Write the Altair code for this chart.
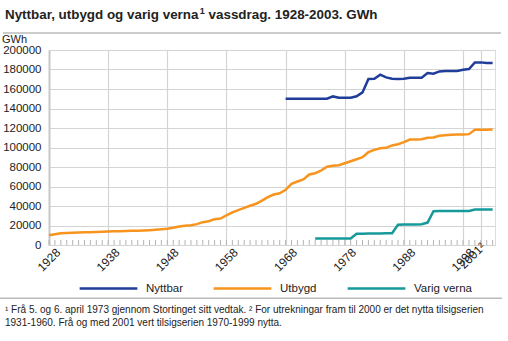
import altair as alt
import pandas as pd

# ---------------- data ----------------
title_parts = ["Nyttbar, utbygd og varig verna", "1", "vassdrag. 1928-2003. GWh"]
unit_text = "GWh"
footnote_lines = [
    "¹ Frå 5. og 6. april 1973 gjennom Stortinget sitt vedtak.  ² For utrekningar fram til 2000 er det nytta tilsigserien",
    "1931-1960.  Frå og med 2001 vert tilsigserien 1970-1999 nytta.",
]

series_names = ["Nyttbar", "Utbygd", "Varig verna"]
series_colors = ["#1f3d99", "#f7941d", "#16999a"]

years_nyttbar = list(range(1968, 2004))
nyttbar = [150000, 150000, 150000, 150000, 150000, 150000, 150000, 150000,
           152400, 151100, 151000, 151000, 152500, 156500, 170300, 170600,
           174700, 171900, 170600, 170300, 170500, 171600, 171600, 171600,
           176400, 175700, 178000, 178400, 178400, 178400, 179800, 180500,
           187300, 187300, 186600, 186600]

years_utbygd = list(range(1928, 2004))
utbygd = [10000, 11100, 12100, 12400, 12600, 12800, 13000, 13100, 13300, 13500,
          13800, 14000, 14200, 14300, 14500, 14700, 14900, 15200, 15600, 16100,
          16600, 17600, 19000, 19700, 20300, 21400, 23400, 24400, 26500, 27200,
          30500, 33500, 35800, 38100, 40200, 42300, 45600, 49000, 51800, 53100,
          56600, 62700, 65100, 67200, 72300, 73600, 76400, 80200, 81200, 81900,
          83900, 85900, 88000, 90100, 95200, 97600, 99300, 99700, 102100, 103400,
          105500, 108200, 108200, 108500, 109900, 110300, 112000, 112600, 113000, 113300,
          113300, 113700, 118200, 118200, 118200, 118500]

years_verna = list(range(1973, 2004))
verna = [6700, 6700, 6700, 6700, 6700, 6700, 6700, 11500, 11600, 11700,
         11800, 11900, 12000, 12100, 20700, 20900, 21000, 21100, 21300, 23000,
         34700, 34800, 34800, 34800, 34800, 34800, 34900, 36400, 36400, 36400,
         36400]

y_ticks = list(range(0, 200001, 20000))
x_label_years = [1928, 1938, 1948, 1958, 1968, 1978, 1988, 1998]
x_labels = ["1928", "1938", "1948", "1958", "1968", "1978", "1988", "1998"]
x_special_year = [2001]
x_special_label = ["2001²"]
minor_tick_years = list(range(1928, 2004))

# ---------------- tables ----------------
rows = []
for name, yrs, vals in [("Nyttbar", years_nyttbar, nyttbar),
                        ("Utbygd", years_utbygd, utbygd),
                        ("Varig verna", years_verna, verna)]:
    for yr, v in zip(yrs, vals):
        rows.append({"year": yr, "gwh": v, "serie": name})
df = pd.DataFrame(rows)
ticks_df = pd.DataFrame({"year": minor_tick_years})
labels_df = pd.DataFrame({"year": x_label_years, "label": x_labels})
special_df = pd.DataFrame({"year": x_special_year, "label": x_special_label})

FONT = "Liberation Sans"
GRID = "#d4d4d4"
TEXT = "#222222"

x_scale = alt.Scale(domain=[1928, 2003.4], nice=False, zero=False)
y_scale = alt.Scale(domain=[0, 200000], nice=False)

x_axis = alt.Axis(
    values=x_label_years + x_special_year, labels=False,
    tickSize=0, grid=True, gridColor=GRID, gridWidth=1.2,
    domainColor=GRID, domainWidth=1.2, title=None)

lines = alt.Chart(df).mark_line(strokeWidth=2.5).encode(
    x=alt.X("year:Q", scale=x_scale, axis=x_axis),
    y=alt.Y("gwh:Q", scale=y_scale, axis=alt.Axis(
        values=y_ticks, format="d", ticks=False, labelPadding=8,
        grid=True, gridColor=GRID, gridWidth=1.2,
        domainColor="#c8c8c8", domainWidth=2,
        labelFontSize=11.5, labelColor=TEXT, labelFont=FONT, title=None)),
    color=alt.Color("serie:N",
                    scale=alt.Scale(domain=series_names, range=series_colors),
                    legend=alt.Legend(
                        orient="none", legendX=29, legendY=208,
                        direction="horizontal", columns=3, gridAlign="all",
                        columnPadding=4, symbolType="stroke", symbolSize=3330,
                        symbolStrokeWidth=2.5, labelOffset=7, labelFontSize=11.5,
                        labelFont=FONT, labelColor=TEXT, title=None, padding=0)),
)

minor_ticks = alt.Chart(ticks_df).mark_rule(color="#b4b4b4", strokeWidth=1).encode(
    x=alt.X("year:Q", scale=x_scale, axis=x_axis),
    y=alt.value(190), y2=alt.value(195),
)

x_label_layer = alt.Chart(labels_df).mark_text(
    angle=315, align="center", baseline="middle", fontSize=12,
    font=FONT, color=TEXT).encode(
    x=alt.X("year:Q", scale=x_scale, axis=x_axis),
    y=alt.value(210), text="label:N")

x_special_layer = alt.Chart(special_df).mark_text(
    angle=315, align="center", baseline="middle", fontSize=12,
    font=FONT, color=TEXT, dx=-3, dy=-9).encode(
    x=alt.X("year:Q", scale=x_scale, axis=x_axis),
    y=alt.value(210), text="label:N")


def text_layer(s, x, y, size, weight="normal"):
    return alt.Chart(pd.DataFrame({"t": [s]})).mark_text(
        align="left", baseline="alphabetic", fontSize=size, fontWeight=weight,
        font=FONT, color=TEXT).encode(x=alt.value(x), y=alt.value(y), text="t:N")


TS = 13.4
w1 = 14.503 * TS           # width of the first title part in Liberation Sans Bold
title_a = text_layer(title_parts[0], -44, -31, TS, "bold")
title_sup = text_layer(title_parts[1], -44 + w1 + 0.5, -36, 9, "bold")
title_b = text_layer(title_parts[2], -44 + w1 + 5.5 + 0.278 * TS, -31, TS, "bold")

unit_layer = text_layer(unit_text, -47, -7, 11)

sep_top = alt.Chart(pd.DataFrame({"a": [0]})).mark_rule(color="#bbbbbb", strokeWidth=1.5).encode(
    x=alt.value(-46), x2=alt.value(452), y=alt.value(-17))
sep_bottom = alt.Chart(pd.DataFrame({"a": [0]})).mark_rule(color="#bbbbbb", strokeWidth=1.5).encode(
    x=alt.value(-49), x2=alt.value(453), y=alt.value(248.3))

foot1 = text_layer(footnote_lines[0], -44, 263, 10)
foot2 = text_layer(footnote_lines[1], -44, 275.5, 10)

chart = alt.layer(lines, minor_ticks, x_label_layer, x_special_layer,
                  title_a, title_sup, title_b, unit_layer,
                  sep_top, sep_bottom, foot1, foot2).properties(
    width=446, height=195,
    autosize=alt.AutoSizeParams(type="none"),
    padding={"left": 49, "top": 50, "right": 13, "bottom": 96},
).configure_view(stroke=None).configure(font=FONT)

chart.save("out.html", embed_options={"renderer": "svg", "actions": False})
